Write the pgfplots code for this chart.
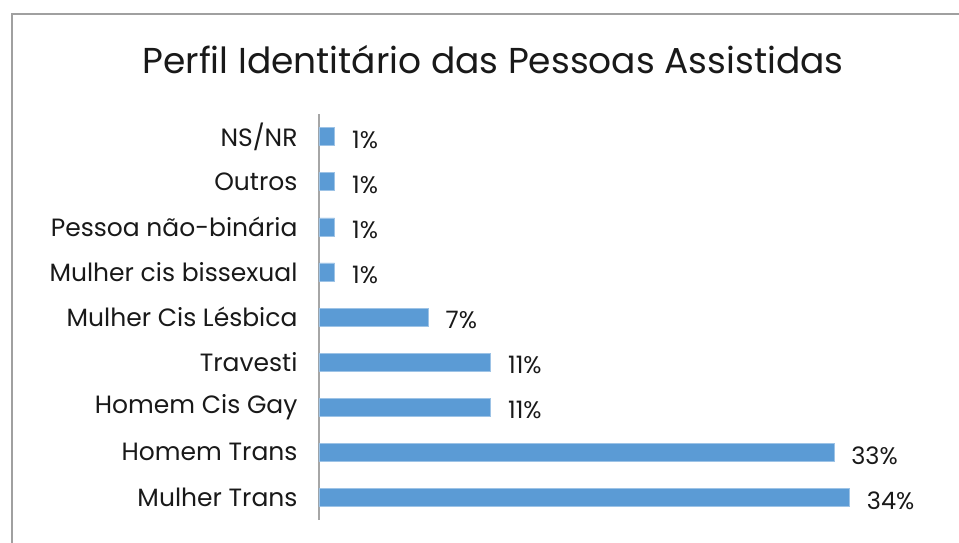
\documentclass[border=0pt]{standalone}
\usepackage{fontspec}
\setmainfont{Poppins}
\usepackage{pgfplots}
\pgfplotsset{compat=1.18}
\definecolor{barblue}{HTML}{5B9BD5}
\definecolor{framegray}{HTML}{A0A0A0}
\definecolor{axisgray}{HTML}{A6A6A6}
\begin{document}
\begin{tikzpicture}
\path[use as bounding box] (-319pt,-22pt) rectangle (640pt,520pt);
\draw[framegray, line width=2pt] (-307pt,-30pt) -- (-307pt,506pt) -- (650pt,506pt);
\node[font=\fontsize{36}{42}\selectfont, text=black!90] at (174pt,460pt) {Perfil Identitário das Pessoas Assistidas};
\begin{axis}[
    at={(0pt,0pt)}, anchor=south west,
    scale only axis,
    width=624pt, height=406pt,
    xbar, bar width=18pt,
    xmin=0, xmax=40,
    ymin=-0.5, ymax=8.5,
    axis x line=none,
    axis y line*=left,
    y axis line style={axisgray, line width=2pt, -},
    ytick={0,...,8},
    yticklabels={Mulher Trans,Homem Trans,Homem Cis Gay,Travesti,Mulher Cis Lésbica,Mulher cis bissexual,Pessoa não-binária,Outros,NS/NR},
    major tick length=0pt,
    yticklabel style={font=\fontsize{25}{30}\selectfont, text=black!90, xshift=-18pt},
    /pgf/number format/assume math mode=true,
    nodes near coords={\pgfmathprintnumber{\pgfplotspointmeta}\%},
    point meta=x,
    every node near coord/.append style={font=\fontsize{24}{28}\selectfont, text=black!90, anchor=west, xshift=14pt, yshift=-3pt},
]
\addplot[fill=barblue, draw=barblue!60!white] coordinates {
  (34,0) (33,1) (11,2) (11,3) (7,4) (1,5) (1,6) (1,7) (1,8)};
\end{axis}
\end{tikzpicture}
\end{document}
